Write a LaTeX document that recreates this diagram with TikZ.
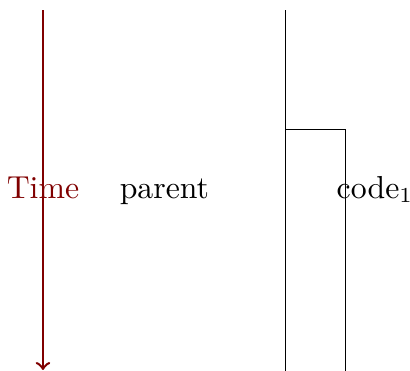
\documentclass[tikz,border=0pt]{standalone}
\usetikzlibrary{positioning,arrows}
\definecolor{timecolor}{rgb}{0.5,0,0}
\tikzstyle{timestyle}=[draw=timecolor,thick,->]
\tikzstyle{procstyle}=[draw=black,line width=0.33pt]
\tikzstyle{labelstyle}=[anchor=base,inner sep=0pt,font=\fontsize{10.4}{12}\selectfont]
\begin{document}
\begin{tikzpicture}
\useasboundingbox (0,0) rectangle (4.713,4.264);
% time axis
\node [labelstyle,text=timecolor] (timelbl) at (0.494,1.985) {Time};
\coordinate (ttop) at (0.494,4.149);
\coordinate (tbot) at (0.494,0.011);
\draw [style=timestyle] (ttop) -- (tbot);
% processes
\node [labelstyle] (parentlbl) at (1.890,1.985) {parent};
\node [labelstyle] (codelbl) at (4.31,1.985) {code$_1$};
\coordinate (ptop) at (3.287,4.149);
\coordinate (pfork) at (3.287,2.770);
\coordinate (pbot) at (3.287,0.0);
\coordinate (cfork) at (3.977,2.770);
\coordinate (cbot) at (3.977,0.0);
\draw [style=procstyle] (ptop) -- (pfork) -- (pbot);
\draw [style=procstyle] (pfork) -- (cfork) -- (cbot);
\end{tikzpicture}
\end{document}
